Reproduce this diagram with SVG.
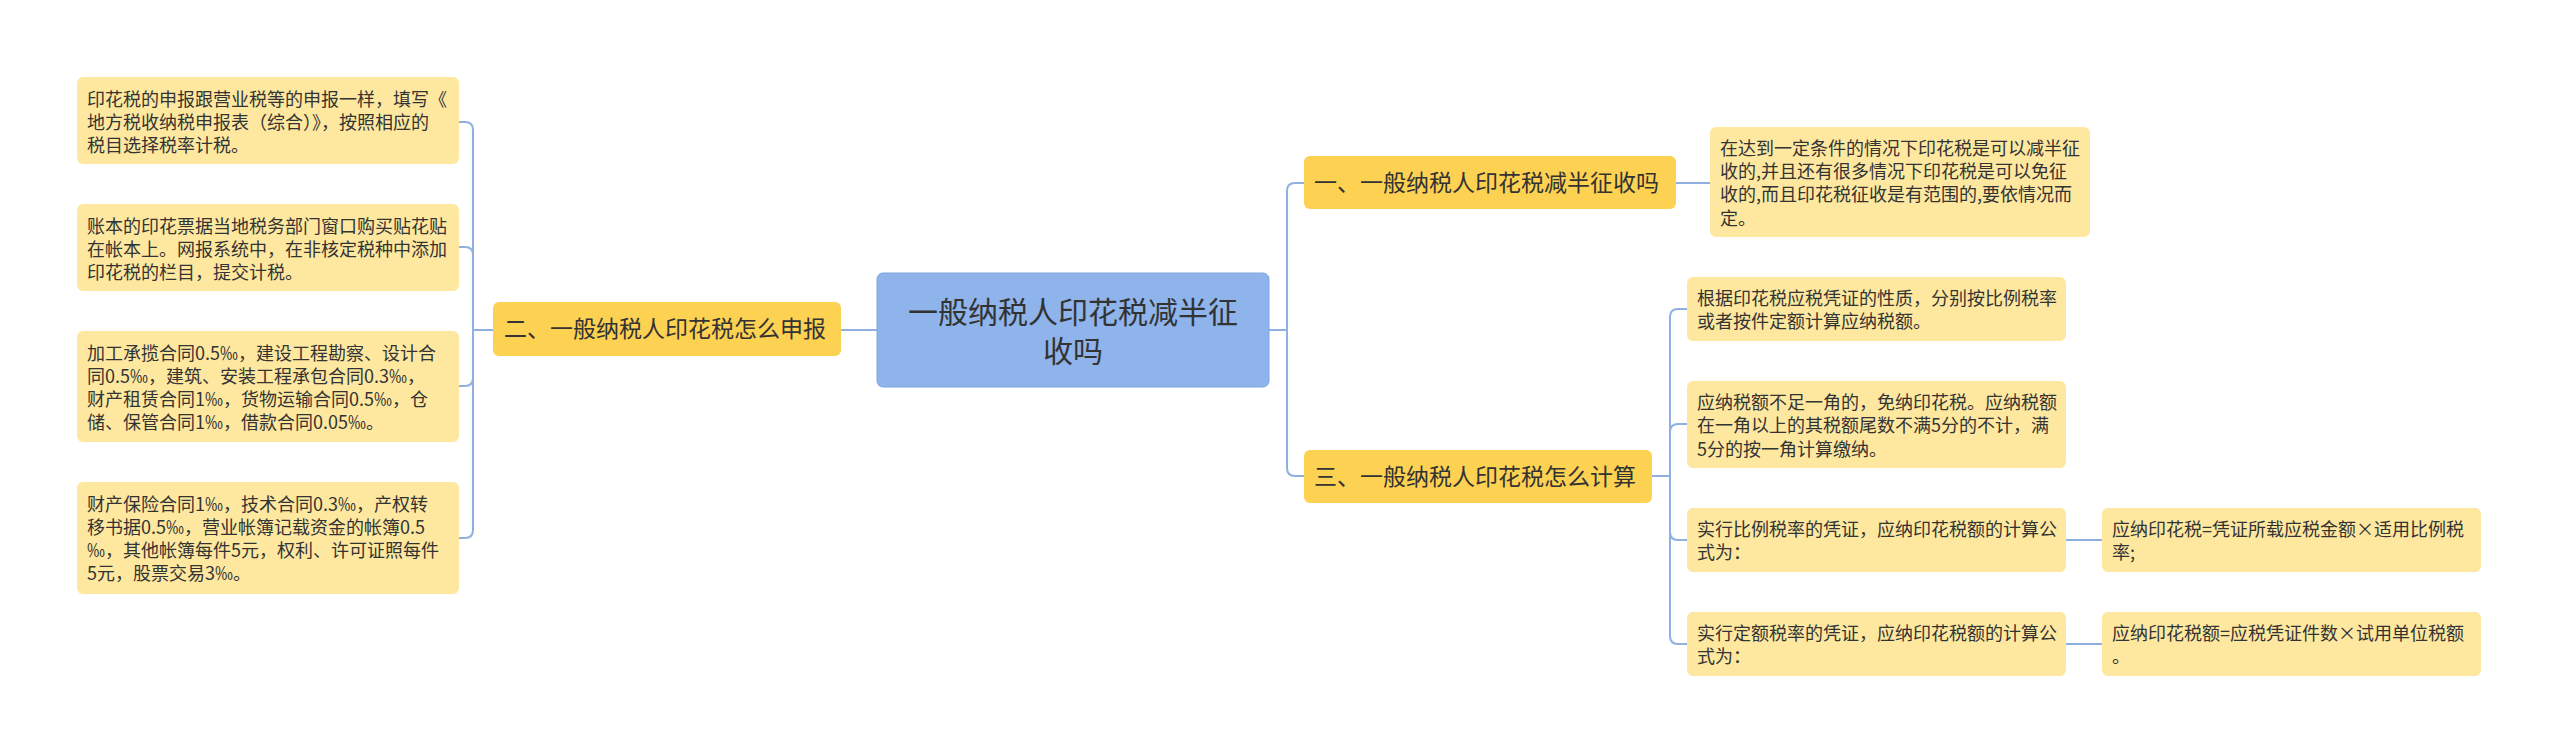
<svg xmlns="http://www.w3.org/2000/svg" width="2560" height="754" viewBox="0 0 2560 754">
<style>
text{font-family:"Noto Sans CJK SC","Noto Sans",sans-serif;fill:#333}
.leaf rect{fill:#fee8a0;stroke:none}
.leaf text{font-size:18px}
.br rect{fill:#fdd152;stroke:none}
.br text{font-size:23px}
.c{fill:none;stroke:#8fb0e0;stroke-width:2}
</style>
<rect width="2560" height="754" fill="#fff"/>
<g id="connectors">
<path class="c" d="M877 330 H841"/>
<path class="c" d="M493 330 H473 V130 Q473 122 465 122 H459"/>
<path class="c" d="M473 330 V255 Q473 247 465 247 H459"/>
<path class="c" d="M473 330 V378 Q473 386 465 386 H459"/>
<path class="c" d="M473 330 V530 Q473 538 465 538 H459"/>
<path class="c" d="M1269 330 H1287 V191 Q1287 183 1295 183 H1304"/>
<path class="c" d="M1287 330 V468 Q1287 476 1295 476 H1304"/>
<path class="c" d="M1676 183 H1710"/>
<path class="c" d="M1652 476 H1670 V317 Q1670 309 1678 309 H1687"/>
<path class="c" d="M1670 476 V432 Q1670 424 1678 424 H1687"/>
<path class="c" d="M1670 476 V532 Q1670 540 1678 540 H1687"/>
<path class="c" d="M1670 476 V636 Q1670 644 1678 644 H1687"/>
<path class="c" d="M2066 540 H2102"/>
<path class="c" d="M2066 644 H2102"/>
</g>
<g id="root"><rect x="877" y="273" width="392" height="114" rx="6" fill="#8fb4eb" stroke="#7fa4e0"/>
<text x="1073" y="323" font-size="30" text-anchor="middle">一般纳税人印花税减半征</text>
<text x="1073" y="362" font-size="30" text-anchor="middle">收吗</text></g>
<g id="b2" class="br"><rect x="493" y="302" width="348" height="54" rx="6"/><text x="504" y="337">二、一般纳税人印花税怎么申报</text></g>
<g id="b1" class="br"><rect x="1304" y="156" width="372" height="53" rx="6"/><text x="1314" y="191">一、一般纳税人印花税减半征收吗</text></g>
<g id="b3" class="br"><rect x="1304" y="450" width="348" height="53" rx="6"/><text x="1314" y="485">三、一般纳税人印花税怎么计算</text></g>
<g id="l1" class="leaf"><rect x="77" y="77" width="382" height="87" rx="6"/><text x="87" y="106">印花税的申报跟营业税等的申报一样，填写《</text><text x="87" y="129">地方税收纳税申报表（综合）》，按照相应的</text><text x="87" y="152">税目选择税率计税。</text></g>
<g id="l2" class="leaf"><rect x="77" y="204" width="382" height="87" rx="6"/><text x="87" y="233">账本的印花票据当地税务部门窗口购买贴花贴</text><text x="87" y="256">在帐本上。网报系统中，在非核定税种中添加</text><text x="87" y="279">印花税的栏目，提交计税。</text></g>
<g id="l3" class="leaf"><rect x="77" y="331" width="382" height="111" rx="6"/><text x="87" y="360">加工承揽合同0.5‰，建设工程勘察、设计合</text><text x="87" y="383">同0.5‰，建筑、安装工程承包合同0.3‰，</text><text x="87" y="406">财产租赁合同1‰，货物运输合同0.5‰，仓</text><text x="87" y="429">储、保管合同1‰，借款合同0.05‰。</text></g>
<g id="l4" class="leaf"><rect x="77" y="482" width="382" height="112" rx="6"/><text x="87" y="511">财产保险合同1‰，技术合同0.3‰，产权转</text><text x="87" y="534">移书据0.5‰，营业帐簿记载资金的帐簿0.5</text><text x="87" y="557">‰，其他帐簿每件5元，权利、许可证照每件</text><text x="87" y="580">5元，股票交易3‰。</text></g>
<g id="r1" class="leaf"><rect x="1710" y="127" width="380" height="110" rx="6"/><text x="1720" y="155">在达到一定条件的情况下印花税是可以减半征</text><text x="1720" y="178">收的,并且还有很多情况下印花税是可以免征</text><text x="1720" y="201">收的,而且印花税征收是有范围的,要依情况而</text><text x="1720" y="225">定。</text></g>
<g id="ra" class="leaf"><rect x="1687" y="277" width="379" height="64" rx="6"/><text x="1697" y="305">根据印花税应税凭证的性质，分别按比例税率</text><text x="1697" y="328">或者按件定额计算应纳税额。</text></g>
<g id="rb" class="leaf"><rect x="1687" y="381" width="379" height="87" rx="6"/><text x="1697" y="409">应纳税额不足一角的，免纳印花税。应纳税额</text><text x="1697" y="432">在一角以上的其税额尾数不满5分的不计，满</text><text x="1697" y="456">5分的按一角计算缴纳。</text></g>
<g id="rc" class="leaf"><rect x="1687" y="508" width="379" height="64" rx="6"/><text x="1697" y="536">实行比例税率的凭证，应纳印花税额的计算公</text><text x="1697" y="559">式为：</text></g>
<g id="rd" class="leaf"><rect x="1687" y="612" width="379" height="64" rx="6"/><text x="1697" y="640">实行定额税率的凭证，应纳印花税额的计算公</text><text x="1697" y="663">式为：</text></g>
<g id="rc2" class="leaf"><rect x="2102" y="508" width="379" height="64" rx="6"/><text x="2112" y="536">应纳印花税=凭证所载应税金额×适用比例税</text><text x="2112" y="559">率;</text></g>
<g id="rd2" class="leaf"><rect x="2102" y="612" width="379" height="64" rx="6"/><text x="2112" y="640">应纳印花税额=应税凭证件数×试用单位税额</text><text x="2112" y="663">。</text></g>
</svg>
